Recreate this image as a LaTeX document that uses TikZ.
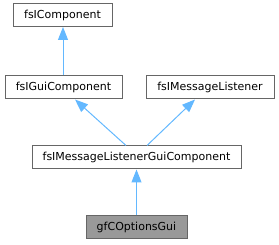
\documentclass[tikz,border=0pt]{standalone}
\usepackage{fontspec}
\setmainfont{DejaVu Sans}
\usetikzlibrary{arrows.meta}
\definecolor{edgegray}{HTML}{666666}
\definecolor{hlgray}{HTML}{999999}
\definecolor{inhblue}{HTML}{63B8FF}
\begin{document}
\begin{tikzpicture}[x=1pt,y=-1pt,
  cls/.style={draw=edgegray,fill=white,line width=1pt,minimum height=23pt,inner sep=0pt,font=\fontsize{11}{13}\selectfont,anchor=center},
  hl/.style={cls,fill=hlgray},
  inh/.style={draw=inhblue,line width=1pt,-{Triangle[length=13pt,width=10pt]}}]
\useasboundingbox (0,0) rectangle (279,245);
\node[cls,minimum width=99pt] (a) at (62.5,15) {fsIComponent};
\node[cls,minimum width=117pt] (b) at (63.5,87.5) {fsIGuiComponent};
\node[cls,minimum width=128pt] (c) at (210,87.5) {fsIMessageListener};
\node[cls,minimum width=209pt] (d) at (136.5,157.5) {fsIMessageListenerGuiComponent};
\node[hl,minimum width=101pt] (e) at (136.5,227.5) {gfCOptionsGui};
\draw[inh] ([xshift=-0.5pt]b.north) -- ([xshift=0.5pt]a.south);
\draw[inh] ([xshift=-10.5pt]d.north) -- ([xshift=11.5pt]b.south);
\draw[inh] ([xshift=10.5pt]d.north) -- ([xshift=-15pt]c.south);
\draw[inh] (e.north) -- (d.south);
\end{tikzpicture}
\end{document}
